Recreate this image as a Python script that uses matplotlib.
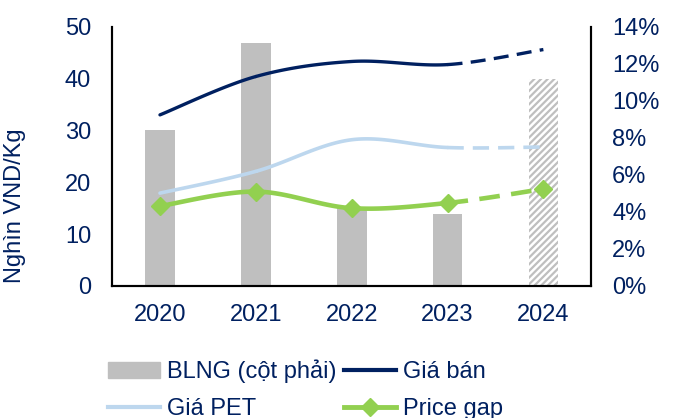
import numpy as np
import matplotlib
matplotlib.use("Agg")
import matplotlib.pyplot as plt
from matplotlib.patches import Patch
from matplotlib.lines import Line2D
from matplotlib.ticker import FuncFormatter

# data
years = ["2020", "2021", "2022", "2023", "2024"]
blng = [8.4, 13.1, 4.2, 3.9, 11.2]          # % (right axis)
gia_ban = [33.0, 40.4, 43.3, 42.7, 45.6]    # nghin VND/kg
gia_pet = [17.9, 22.1, 28.2, 26.7, 26.8]
price_gap = [15.4, 18.2, 15.0, 16.0, 18.7]

NAVY = "#002060"
BAR = "#BFBFBF"
PET = "#BDD7EE"
GREEN = "#92D050"
FS = 17

plt.rcParams["font.family"] = ["Liberation Sans", "DejaVu Sans"]
plt.rcParams["font.size"] = FS
plt.rcParams["hatch.linewidth"] = 1.6


def smooth(xs, ys, n=40):
    # Catmull-Rom through the points, one chunk per segment
    p = np.column_stack([xs, ys]).astype(float)
    p = np.vstack([p[0], p, p[-1]])
    segs = []
    for i in range(1, len(p) - 2):
        p0, p1, p2, p3 = p[i - 1], p[i], p[i + 1], p[i + 2]
        t = np.linspace(0, 1, n)[:, None]
        c = 0.5 * ((2 * p1) + (-p0 + p2) * t + (2 * p0 - 5 * p1 + 4 * p2 - p3) * t**2
                   + (-p0 + 3 * p1 - 3 * p2 + p3) * t**3)
        segs.append(c)
    return segs


fig = plt.figure(figsize=(6.75, 4.18), dpi=100)
ax = fig.add_axes([0.166, 0.316, 0.710, 0.620])
ax2 = ax.twinx()
ax.set_zorder(ax2.get_zorder() + 1)
ax.patch.set_visible(False)

x = np.arange(len(years))
ax2.bar(x[:4], blng[:4], width=0.31, color=BAR)
ax2.bar(x[4:], blng[4:], width=0.31, color="white", edgecolor=BAR,
        hatch="/////", linewidth=0)

for vals, col, lw in [(gia_ban, NAVY, 2.4), (gia_pet, PET, 2.6), (price_gap, GREEN, 3.3)]:
    segs = smooth(x, vals)
    solid = np.vstack(segs[:3])
    ax.plot(solid[:, 0], solid[:, 1], color=col, lw=lw, solid_capstyle="round")
    ax.plot(segs[3][:, 0], segs[3][:, 1], color=col, lw=lw, ls=(0, (4.5, 2.5)))
ax.plot(x, price_gap, ls="none", marker="D", ms=9, color=GREEN)

ax.set_xlim(-0.5, 4.5)
ax.set_ylim(0, 50)
ax.set_yticks(range(0, 51, 10))
ax2.set_ylim(0, 14)
ax2.set_yticks(range(0, 15, 2))
ax2.yaxis.set_major_formatter(FuncFormatter(lambda v, _: f"{v:.0f}%"))
ax.set_xticks(x)
ax.set_xticklabels(years)

ax.tick_params(axis="both", length=0, colors=NAVY, labelsize=FS)
ax.tick_params(axis="y", pad=15)
ax.tick_params(axis="x", pad=13)
ax2.tick_params(axis="y", length=0, colors=NAVY, labelsize=FS, pad=15)

for a in (ax, ax2):
    a.spines["top"].set_visible(False)
    for s in ("left", "right", "bottom"):
        a.spines[s].set_linewidth(1.5)
        a.spines[s].set_color("black")

ax.set_ylabel("Nghìn VND/Kg", color=NAVY, fontsize=FS)
ax.yaxis.set_label_coords(-0.18, 0.31)

handles = [
    Patch(color=BAR),
    Line2D([], [], color=PET, lw=3),
    Line2D([], [], color=NAVY, lw=3),
    Line2D([], [], color=GREEN, lw=3.5, marker="D", ms=9),
]
labels = ["BLNG (cột phải)", "Giá PET", "Giá bán", "Price gap"]
leg = fig.legend(handles, labels, ncol=2, frameon=False, loc="upper left",
                 bbox_to_anchor=(0.16, 0.14), handlelength=2.2, handletextpad=0.3,
                 columnspacing=0.3, labelspacing=0.65, borderpad=0, borderaxespad=0)
for t in leg.get_texts():
    t.set_color(NAVY)

fig.savefig("out.png", dpi=100)
